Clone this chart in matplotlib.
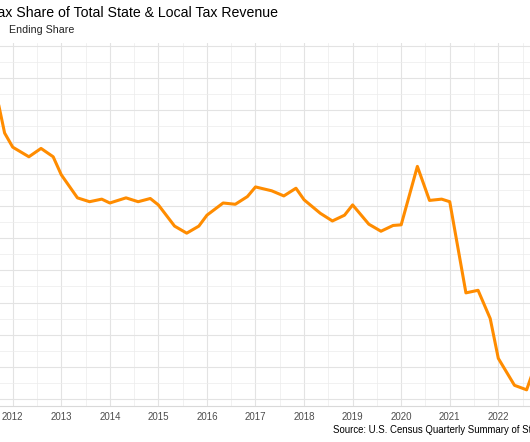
import matplotlib
matplotlib.use("Agg")
import matplotlib.pyplot as plt
from matplotlib.ticker import MultipleLocator, NullFormatter

plt.rcParams["font.family"] = ["Liberation Sans", "DejaVu Sans"]

title = "Property Tax Share of Total State & Local Tax Revenue"
subtitle = "Ending Share"
source = "Source: U.S. Census Quarterly Summary of State & Local Tax Revenue"

# one point per quarter, plotted at these months of the year
month_offsets = [0, 4, 7, 10]
first_year = 2011
first_slot = 2
share = [
    35.54, 34.64,
    34.42, 34.27, 34.40, 34.27,
    33.99, 33.63, 33.57, 33.61,
    33.55, 33.63, 33.57, 33.62,
    33.52, 33.19, 33.08, 33.19,
    33.36, 33.55, 33.53, 33.65,
    33.80, 33.74, 33.66, 33.78,
    33.60, 33.39, 33.27, 33.36,
    33.52, 33.22, 33.11, 33.20,
    33.21, 34.12, 33.59, 33.61,
    33.57, 32.15, 32.19, 31.75,
    31.13, 30.71, 30.64, 31.18,
]
year_ticks = list(range(2011, 2024))

dates = []
for i in range(len(share)):
    k = first_slot + i
    dates.append(first_year + k // 4 + month_offsets[k % 4] / 12)

W, H = 530, 442
fig = plt.figure(figsize=(W / 100, H / 100), dpi=100)

# panel runs past both sides of the picture (cropped view)
left_px, right_px, top_px, bottom_px = -60, 600, 43, 406
ax = fig.add_axes([left_px / W, 1 - bottom_px / H,
                   (right_px - left_px) / W, (bottom_px - top_px) / H])

ax.plot(dates, share, color="#FF8C00", lw=2.2, zorder=3)

ax.set_xticks(year_ticks)
ax.set_xticklabels([str(y) for y in year_ticks])
ax.xaxis.set_minor_locator(MultipleLocator(0.5))
ax.yaxis.set_major_locator(MultipleLocator(0.5))
ax.yaxis.set_minor_locator(MultipleLocator(0.25))
ax.yaxis.set_major_formatter(NullFormatter())
ax.tick_params(which="both", length=0)
ax.tick_params(axis="x", labelsize=7, labelcolor="#4d4d4d", pad=4)

# limits last, so the tick list cannot widen them
x0_px, px_per_year = 12.7, 48.56
ax.set_xlim(2012 + (left_px - x0_px) / px_per_year,
            2012 + (right_px - x0_px) / px_per_year)
y_ref_px, y_ref, px_per_unit = 238.3, 33.0, 64.2
ax.set_ylim(y_ref - (bottom_px - y_ref_px) / px_per_unit,
            y_ref - (top_px - y_ref_px) / px_per_unit)

ax.grid(which="major", color="#e3e3e3", lw=0.8)
ax.grid(which="minor", color="#ececec", lw=0.5)
ax.set_axisbelow(True)
for side in ["top", "left", "right"]:
    ax.spines[side].set_visible(False)
ax.spines["bottom"].set_color("#d9d9d9")
ax.spines["bottom"].set_linewidth(0.8)

fig.text(278 / W, 1 - 17 / H, title, ha="right", va="baseline",
         fontsize=10.2, color="black")
fig.text(74.5 / W, 1 - 33 / H, subtitle, ha="right", va="baseline",
         fontsize=7.7, color="#222222")
fig.text(333 / W, 1 - 433 / H, source, ha="left", va="baseline",
         fontsize=6.95, color="black")

fig.savefig("out.png", dpi=100)
